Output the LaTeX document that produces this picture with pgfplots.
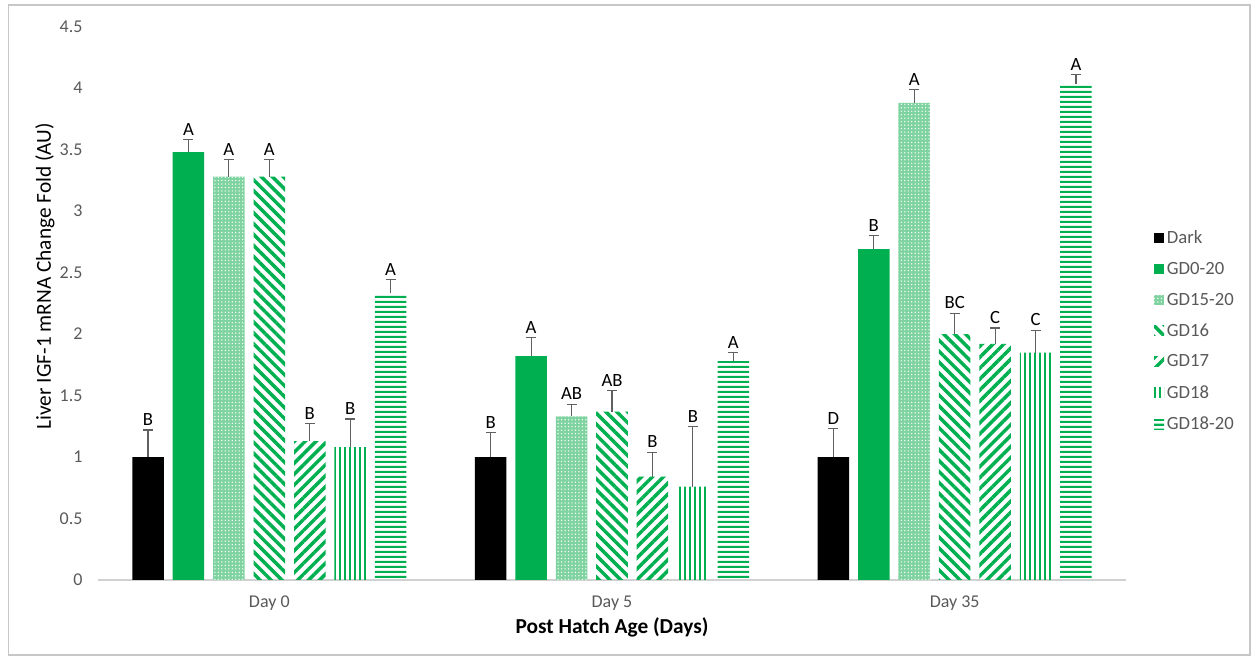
\documentclass[border=0pt]{standalone}
\usepackage{pgfplots}
\pgfplotsset{compat=1.18}
\usepackage{pgfplotstable}
\usepackage{fontspec}
\setmainfont{Carlito}
\usetikzlibrary{patterns.meta}
\definecolor{gdgreen}{HTML}{00B050}
\definecolor{lightgd}{HTML}{7FD3A0}
\definecolor{txtgray}{HTML}{595959}
\definecolor{errgray}{HTML}{606060}

\pgfdeclarepatternformonly{hstripes}{\pgfpointorigin}{\pgfpoint{30pt}{3.8pt}}{\pgfpoint{30pt}{3.8pt}}%
  {\pgfpathrectangle{\pgfpoint{-1pt}{0pt}}{\pgfpoint{32pt}{1.9pt}}\pgfusepath{fill}}

% x  value err label for each series
\pgfplotstableread{
x  y     e     lab
0  1.00  0.22  B
1  1.00  0.20  B
2  1.00  0.23  D
}\tdark
\pgfplotstableread{
x  y     e     lab
0  3.48  0.10  A
1  1.82  0.15  A
2  2.69  0.11  B
}\tgzero
\pgfplotstableread{
x  y     e     lab
0  3.28  0.14  A
1  1.33  0.10  AB
2  3.88  0.11  A
}\tgfifteen
\pgfplotstableread{
x  y     e     lab
0  3.28  0.14  A
1  1.37  0.17  AB
2  2.00  0.17  BC
}\tgsixteen
\pgfplotstableread{
x  y     e     lab
0  1.13  0.14  B
1  0.84  0.20  B
2  1.92  0.13  C
}\tgseventeen
\pgfplotstableread{
x  y     e     lab
0  1.08  0.23  B
1  0.76  0.49  B
2  1.85  0.18  C
}\tgeighteen
\pgfplotstableread{
x  y     e     lab
0  2.33  0.115 A
1  1.78  0.07  A
2  4.03  0.08  A
}\tgeighttw

\begin{document}
\begin{tikzpicture}
\begin{axis}[
  scale only axis,
  width=771pt, height=415pt,
  xmin=-0.5, xmax=2.5,
  ymin=0, ymax=4.5,
  xtick={0,1,2},
  xticklabels={Day 0, Day 5, Day 35},
  ytick={0,0.5,1,1.5,2,2.5,3,3.5,4,4.5},
  yticklabels={0,0.5,1,1.5,2,2.5,3,3.5,4,4.5},
  axis x line=bottom, axis y line=left,
  x axis line style={draw=black!18, line width=1pt, -},
  y axis line style={draw=none},
  tick style={draw=none},
  xticklabel style={font=\fontsize{13.5}{16}\selectfont, text=txtgray, yshift=-6pt},
  yticklabel style={font=\fontsize{13.5}{16}\selectfont, text=txtgray, xshift=-6pt},
  every axis x label/.style={at={(axis description cs:0.5,-0.085)}, anchor=center},
  every axis y label/.style={at={(axis description cs:-0.0516,0.549)}, rotate=90, anchor=center},
  xlabel={\fontsize{16}{19}\selectfont\bfseries Post Hatch Age (Days)},
  ylabel={\fontsize{16}{19}\selectfont Liver IGF-1 mRNA Change Fold (AU)},
  legend style={at={(axis description cs:1.0233,0.641)}, anchor=north west, draw=none,
    font=\fontsize{14}{17}\selectfont, text=txtgray, row sep=8.4pt,
    /tikz/every even column/.append style={column sep=2pt}},
  legend cell align=left,
  legend image code/.code={\path[#1, draw=none] (0pt,-3.75pt) rectangle (7.5pt,3.75pt);},
  error bars/y dir=plus,
  error bars/y explicit,
  error bars/error bar style={draw=errgray, line width=0.9pt},
  error bars/error mark options={rotate=90, mark size=3.75pt, draw=errgray, line width=0.9pt},
  nodes near coords style={font=\fontsize{14}{16}\selectfont, text=black, anchor=south, inner sep=1pt, yshift=2pt},
]
\addplot[ybar, bar width=0.092, bar shift=0pt, fill=black, draw=none]
  table[x expr=\thisrow{x}-0.354, y=y, y error=e]{\tdark};
\addlegendentry{Dark}
\addplot[ybar, bar width=0.092, bar shift=0pt, fill=gdgreen, draw=none]
  table[x expr=\thisrow{x}-0.236, y=y, y error=e]{\tgzero};
\addlegendentry{GD0-20}
\addplot[ybar, bar width=0.092, bar shift=0pt, fill=lightgd, draw=none,
  postaction={pattern={Dots[distance=2.6pt, radius=0.55pt]}, pattern color=white}]
  table[x expr=\thisrow{x}-0.118, y=y, y error=e]{\tgfifteen};
\addlegendentry{GD15-20}
\addplot[ybar, bar width=0.092, bar shift=0pt, draw=none,
  pattern={Lines[angle=-45, distance=5.8pt, line width=2.6pt]}, pattern color=gdgreen]
  table[x expr=\thisrow{x}, y=y, y error=e]{\tgsixteen};
\addlegendentry{GD16}
\addplot[ybar, bar width=0.092, bar shift=0pt, draw=none,
  pattern={Lines[angle=45, distance=5.8pt, line width=2.6pt]}, pattern color=gdgreen]
  table[x expr=\thisrow{x}+0.118, y=y, y error=e]{\tgseventeen};
\addlegendentry{GD17}
\addplot[ybar, bar width=0.092, bar shift=0pt, draw=none,
  pattern={Lines[angle=90, distance=3.75pt, line width=1.6pt]}, pattern color=gdgreen]
  table[x expr=\thisrow{x}+0.236, y=y, y error=e]{\tgeighteen};
\addlegendentry{GD18}
\addplot[ybar, bar width=0.092, bar shift=0pt, draw=none,
  pattern=hstripes, pattern color=gdgreen]
  table[x expr=\thisrow{x}+0.354, y=y, y error=e]{\tgeighttw};
\addlegendentry{GD18-20}

% letter labels above the error bars
\addplot[draw=none, forget plot, nodes near coords, point meta=explicit symbolic, error bars/y dir=none]
  table[x expr=\thisrow{x}-0.354, y expr=\thisrow{y}+\thisrow{e}, meta=lab]{\tdark};
\addplot[draw=none, forget plot, nodes near coords, point meta=explicit symbolic, error bars/y dir=none]
  table[x expr=\thisrow{x}-0.236, y expr=\thisrow{y}+\thisrow{e}, meta=lab]{\tgzero};
\addplot[draw=none, forget plot, nodes near coords, point meta=explicit symbolic, error bars/y dir=none]
  table[x expr=\thisrow{x}-0.118, y expr=\thisrow{y}+\thisrow{e}, meta=lab]{\tgfifteen};
\addplot[draw=none, forget plot, nodes near coords, point meta=explicit symbolic, error bars/y dir=none]
  table[x expr=\thisrow{x}, y expr=\thisrow{y}+\thisrow{e}, meta=lab]{\tgsixteen};
\addplot[draw=none, forget plot, nodes near coords, point meta=explicit symbolic, error bars/y dir=none]
  table[x expr=\thisrow{x}+0.118, y expr=\thisrow{y}+\thisrow{e}, meta=lab]{\tgseventeen};
\addplot[draw=none, forget plot, nodes near coords, point meta=explicit symbolic, error bars/y dir=none]
  table[x expr=\thisrow{x}+0.236, y expr=\thisrow{y}+\thisrow{e}, meta=lab]{\tgeighteen};
\addplot[draw=none, forget plot, nodes near coords, point meta=explicit symbolic, error bars/y dir=none]
  table[x expr=\thisrow{x}+0.354, y expr=\thisrow{y}+\thisrow{e}, meta=lab]{\tgeighttw};
\end{axis}
\draw[black!22, line width=0.8pt] (-67pt,-56.25pt) rectangle (864pt,431.25pt);
\pgfresetboundingbox
\useasboundingbox (-73.5pt,-59.25pt) rectangle (867pt,435pt);
\end{tikzpicture}
\end{document}
